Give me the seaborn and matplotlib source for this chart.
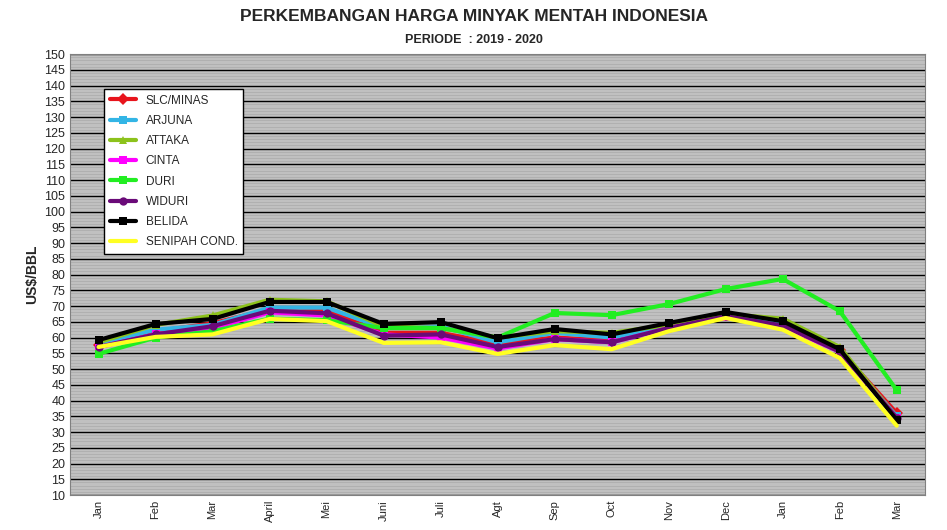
import pandas as pd
import matplotlib.pyplot as plt
import seaborn as sns

months = ['Jan', 'Feb', 'Mar', 'April', 'Mei', 'Juni', 'Juli', 'Agt', 'Sep', 'Oct',
          'Nov', 'Dec', 'Jan', 'Feb', 'Mar']

slc_minas = [57.5, 62.0, 64.5, 69.0, 68.5, 61.5, 61.5, 58.0, 60.0, 59.0, 63.5, 67.0, 64.0, 56.0, 36.0]
arjuna = [58.0, 62.5, 64.0, 69.5, 69.5, 63.0, 63.5, 58.5, 61.5, 60.0, 63.5, 67.0, 64.5, 56.0, 35.0]
attaka = [58.5, 64.0, 67.0, 72.0, 71.5, 63.5, 63.0, 60.0, 62.0, 61.5, 64.0, 67.5, 66.0, 57.0, 34.5]
cinta = [57.0, 61.0, 63.0, 68.0, 67.0, 61.0, 60.0, 56.5, 59.5, 58.5, 63.0, 66.5, 63.5, 55.5, 34.5]
duri = [54.8, 60.0, 62.0, 66.0, 65.5, 63.0, 63.0, 60.0, 67.8, 67.1, 70.6, 75.4, 78.6, 68.4, 43.3]
widuri = [57.0, 61.0, 63.6, 68.5, 67.7, 60.6, 61.0, 57.0, 59.5, 58.5, 63.0, 66.8, 63.8, 55.5, 34.5]
belida = [59.2, 64.3, 65.9, 71.3, 71.3, 64.3, 64.9, 59.8, 62.7, 61.0, 64.6, 68.1, 65.2, 56.3, 33.8]
senipah = [57.0, 60.2, 61.0, 65.9, 65.2, 58.3, 58.5, 54.8, 57.6, 56.3, 62.0, 66.2, 62.5, 53.5, 32.0]

series = [
    ('SLC/MINAS', slc_minas, '#e8141c', 'D'),
    ('ARJUNA', arjuna, '#33b5e5', 's'),
    ('ATTAKA', attaka, '#8cc21b', '^'),
    ('CINTA', cinta, '#ff00ff', 's'),
    ('DURI', duri, '#22ee22', 's'),
    ('WIDURI', widuri, '#6a0a78', 'o'),
    ('BELIDA', belida, '#000000', 's'),
    ('SENIPAH COND.', senipah, '#ffff22', None),
]

rows = []
for name, vals, _, _ in series:
    for i, v in enumerate(vals):
        rows.append({'idx': i, 'value': v, 'name': name})
df = pd.DataFrame(rows)

sns.set_style('white')
plt.rcParams['font.family'] = ['Arial', 'Liberation Sans', 'DejaVu Sans']

fig = plt.figure(figsize=(9.47, 5.3), dpi=100)
ax = fig.add_axes([0.074, 0.066, 0.903, 0.832])
ax.set_facecolor('#c0c0c0')

for name, vals, color, marker in series:
    d = df[df['name'] == name]
    sns.lineplot(data=d, x='idx', y='value', ax=ax, color=color, linewidth=3,
                 marker=marker, markersize=6, markeredgewidth=0, label=name)

ax.set_xlim(-0.5, len(months) - 0.5)
ax.set_ylim(10, 150)
ax.set_yticks(range(10, 151, 5))
ax.set_yticks(range(10, 151, 1), minor=True)
ax.grid(which='minor', axis='y', color='#b0b0b0', linewidth=0.7)
ax.grid(which='major', axis='y', color='black', linewidth=1)
ax.set_axisbelow(True)
ax.set_xticks(range(len(months)))
ax.set_xticklabels(months, rotation=90, fontsize=8)
ax.tick_params(axis='y', labelsize=9, length=0)
ax.tick_params(axis='x', length=0)
for s in ax.spines.values():
    s.set_color('#808080')
ax.set_xlabel('')
ax.set_ylabel('US$/BBL', fontsize=10, fontweight='bold')

leg = ax.legend(loc='upper left', bbox_to_anchor=(0.033, 0.935), frameon=True,
                fancybox=False, edgecolor='black', fontsize=8.5, labelspacing=0.7,
                handlelength=2.2, borderpad=0.5)
leg.get_frame().set_facecolor('white')
leg.get_frame().set_alpha(1)

fig.text(0.5, 0.96, 'PERKEMBANGAN HARGA MINYAK MENTAH INDONESIA', ha='center',
         fontsize=12.5, fontweight='bold')
fig.text(0.5, 0.918, 'PERIODE  : 2019 - 2020', ha='center', fontsize=9, fontweight='bold')

plt.savefig('out.png', dpi=100)
